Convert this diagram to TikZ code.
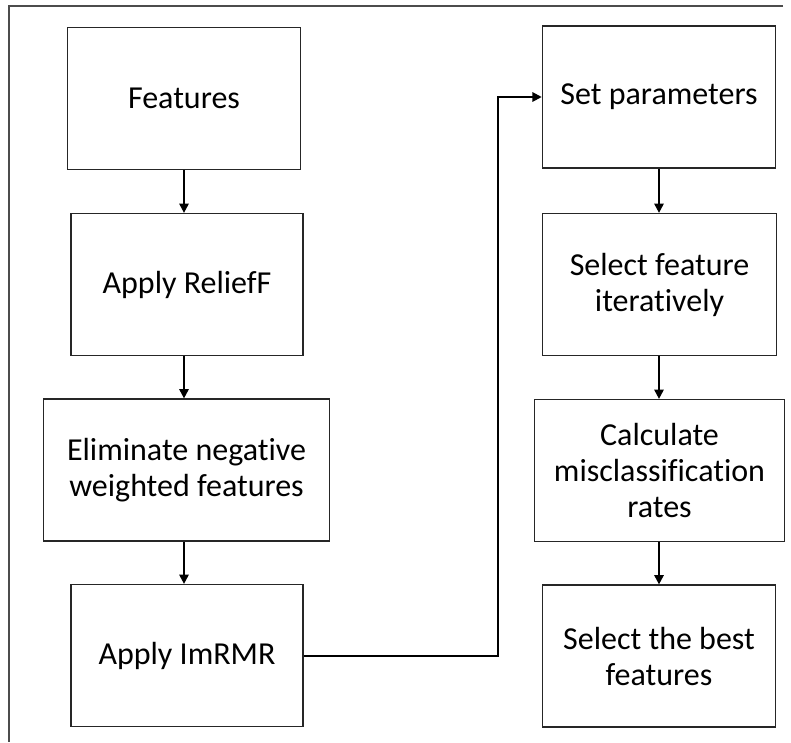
\documentclass[tikz,border=0pt]{standalone}
\usepackage{fontspec}
\setmainfont{Carlito}[Ligatures=NoCommon]
\usetikzlibrary{arrows.meta}

\begin{document}
\begin{tikzpicture}[x=0.75pt, y=-0.75pt,
	every node/.style={font=\fontsize{24}{27}\selectfont, align=center},
	stepbox/.style={draw=black!85, line width=0.9pt, minimum width=175pt, minimum height=106.5pt, inner sep=2pt},
	flow/.style={line width=1.5pt, -{Triangle[length=7pt, width=7pt]}},
	>={Triangle[length=7pt]}]
	\useasboundingbox (0,0) rectangle (791,742);
	\draw[black!70, line width=0.9pt] (783,6) -- (9,6) -- (9,742);
	% left column
	\node[stepbox] (feat) at (184,98.5) {Features};
	\node[stepbox, minimum width=174pt] (relief) at (187,284.5) {Apply ReliefF};
	\node[stepbox, minimum width=215pt] (elim) at (186.5,470) {Eliminate negative\\weighted features};
	\node[stepbox, minimum width=174pt] (imrmr) at (187,655.5) {Apply ImRMR};
	% right column
	\node[stepbox] (setp) at (659,97) {Set parameters};
	\node[stepbox] (selit) at (659.5,284.5) {Select feature\\iteratively};
	\node[stepbox, minimum width=188pt] (calc) at (659.5,470.5) {Calculate\\misclassification\\rates};
	\node[stepbox] (best) at (659,656) {Select the best\\features};
	\coordinate (bend) at (498,0);
	\draw[flow] (feat.south) -- (feat.south |- relief.north);
	\draw[flow] (relief.south -| feat.south) -- (feat.south |- elim.north);
	\draw[flow] (elim.south -| feat.south) -- (feat.south |- imrmr.north);
	\draw[flow] (imrmr.east) -| (bend |- setp.west) -- (setp.west);
	\draw[flow] (setp.south) -- (setp.south |- selit.north);
	\draw[flow] (selit.south -| setp.south) -- (setp.south |- calc.north);
	\draw[flow] (calc.south -| setp.south) -- (setp.south |- best.north);
\end{tikzpicture}
\end{document}
